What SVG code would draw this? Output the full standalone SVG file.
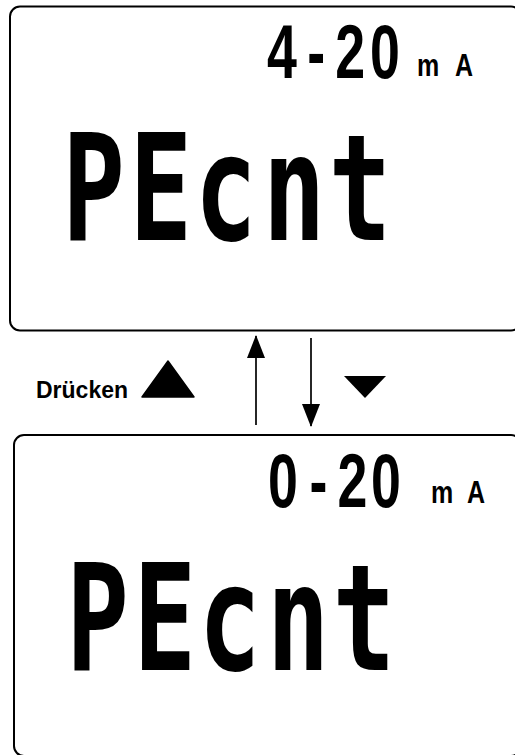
<svg xmlns="http://www.w3.org/2000/svg" width="515" height="755" viewBox="0 0 515 755">
<style>
.box{fill:#fff;stroke:#000;stroke-width:2}
.seg{font-family:"DejaVu Sans Mono","Liberation Mono",monospace;font-weight:bold;fill:#000}
.dig{font-family:"Liberation Sans",Arial,sans-serif;font-weight:bold;fill:#000}
.unit{font-family:"Liberation Sans",Arial,sans-serif;font-weight:bold;fill:#000}
.lbl{font-family:"Liberation Sans",Arial,sans-serif;font-weight:bold;font-size:23px;fill:#000}
.conn{stroke:#000;stroke-width:1.7;fill:none}
</style>
<defs>
<marker id="ah" viewBox="0 0 23 18" markerWidth="23" markerHeight="18" refX="22" refY="9" orient="auto" markerUnits="userSpaceOnUse">
<path d="M0,0 L23,9 L0,18 z" fill="#000"/>
</marker>
</defs>
<rect width="515" height="755" fill="#fff"/>
<g id="display-4-20">
<rect class="box" x="10" y="6.5" width="511" height="324" rx="10"/>
<text class="dig" font-size="48" transform="translate(268,78) scale(1.12,1.6)" x="-1 35 60 91">4-20</text>
<text class="unit" font-size="25" transform="translate(417,76) scale(1,1.25)" x="0 38">mA</text>
<text class="seg" font-size="93" transform="translate(69,240) scale(1.12,1.6)" x="-6 54 112 173 232">PEcnt</text>
</g>
<g id="display-0-20">
<rect class="box" x="14" y="435" width="507" height="321" rx="10"/>
<text class="dig" font-size="48" transform="translate(268,507) scale(1.12,1.6)" x="0 37 62 92">0-20</text>
<text class="unit" font-size="25" transform="translate(431,503) scale(1,1.25)" x="0 36">mA</text>
<text class="seg" font-size="93" transform="translate(73,670) scale(1.12,1.6)" x="-6 54 112 173 232">PEcnt</text>
</g>
<g id="connectors">
<line class="conn" x1="256" y1="425" x2="256" y2="336" marker-end="url(#ah)"/>
<line class="conn" x1="311" y1="338" x2="311" y2="426" marker-end="url(#ah)"/>
</g>
<g id="legend">
<text class="lbl" x="36" y="398">Drücken</text>
<polygon points="142,397 168,361 194,397" fill="#000" stroke="#000" stroke-width="1.5" stroke-linejoin="round"/>
<polygon points="344,376 386,376 365,398" fill="#000"/>
</g>
</svg>
